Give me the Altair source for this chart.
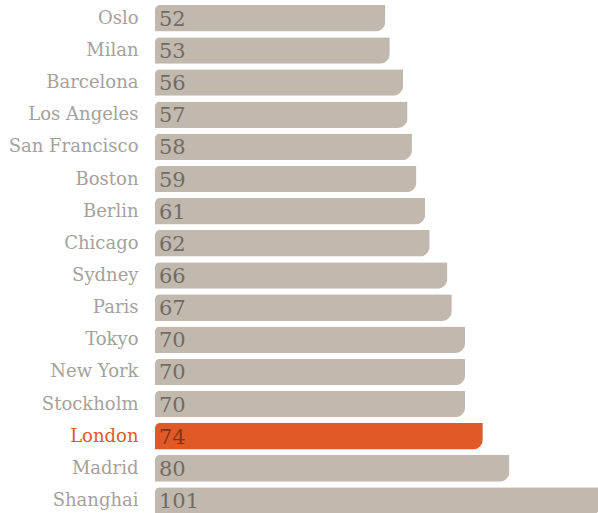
import altair as alt
import pandas as pd

cities = ["Oslo", "Milan", "Barcelona", "Los Angeles", "San Francisco", "Boston",
          "Berlin", "Chicago", "Sydney", "Paris", "Tokyo", "New York", "Stockholm",
          "London", "Madrid", "Shanghai"]
values = [52, 53, 56, 57, 58, 59, 61, 62, 66, 67, 70, 70, 70, 74, 80, 101]
highlight = "London"

df = pd.DataFrame({"city": cities, "value": values})
df["grp"] = ["hl" if c == highlight else "base" for c in cities]

FONT = "DejaVu Serif"
Y_SHIFT = 2.9

y = alt.Y("city:N", sort=cities,
          scale=alt.Scale(paddingInner=0.175, paddingOuter=0.0655),
          axis=alt.Axis(title=None, domain=False, ticks=False, labelPadding=17,
                        labelFont=FONT, labelFontSize=18,
                        labelOffset=Y_SHIFT + 0.5, labelLimit=200,
                        labelColor=alt.ExprRef(expr=f"datum.value == '{highlight}' ? '#e05a28' : '#a5a19d'")))
x = alt.X("value:Q", scale=alt.Scale(domain=[0, 100], nice=False, zero=True), axis=None)

bars = alt.Chart(df).mark_bar(
    cornerRadiusTopLeft=5, cornerRadiusBottomRight=10, yOffset=Y_SHIFT
).encode(
    x=x, y=y,
    color=alt.Color("grp:N", scale=alt.Scale(domain=["base", "hl"], range=["#c1b8ae", "#e05a28"]), legend=None),
)

labels = alt.Chart(df).mark_text(
    align="left", baseline="middle", dx=4, dy=Y_SHIFT + 1.5, font=FONT, fontSize=21,
    color="#000000", opacity=0.42
).encode(
    x=alt.value(0), y=y, text="value:Q"
)

chart = alt.layer(bars, labels).properties(
    width=443, height=513,
    padding={"left": 155, "top": 0, "right": 0, "bottom": 0},
    autosize=alt.AutoSizeParams(type="none"),
).configure_view(stroke=None)

chart.save("out.html", embed_options={"renderer": "svg", "actions": False})
